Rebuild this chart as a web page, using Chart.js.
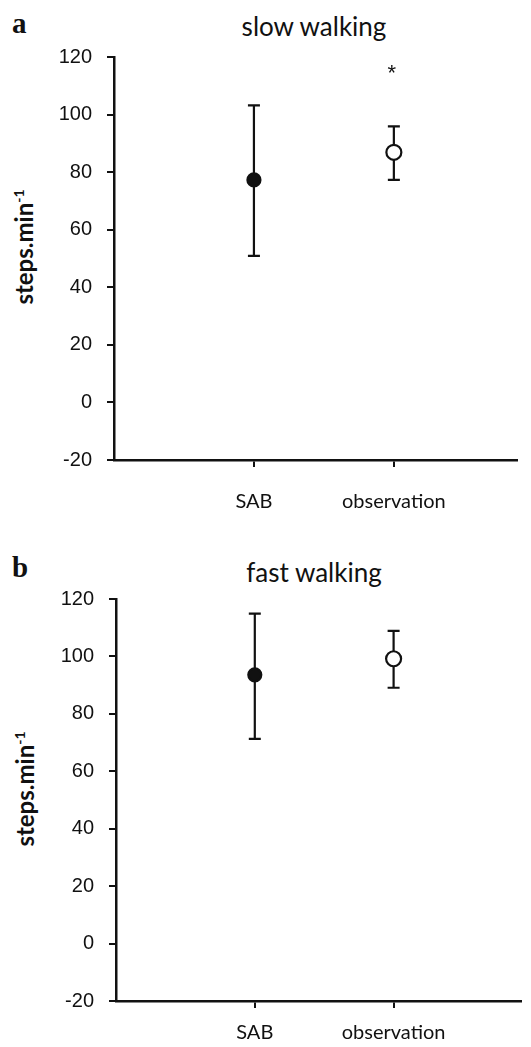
<!DOCTYPE html>
<html>
<head>
<meta charset="utf-8">
<script src="https://cdn.jsdelivr.net/npm/chart.js@4.4.1/dist/chart.umd.min.js"></script>
<style>
  html, body { margin: 0; padding: 0; background: #fff; }
  #page { position: relative; width: 531px; height: 1047px; overflow: hidden; }
  canvas { position: absolute; left: 0; }
  .letter { position: absolute; font-family: "Liberation Serif", "DejaVu Serif", serif; font-weight: bold; font-size: 29px; line-height: 1; color: #111; }
  .title { position: absolute; font-family: Lato, "Open Sans", sans-serif; font-size: 26px; line-height: 1; color: #111; transform: translateX(-50%); white-space: nowrap; }
  .ytitle { position: absolute; font-family: Lato, "Open Sans", sans-serif; font-weight: bold; font-size: 24px; line-height: 1; color: #111; white-space: nowrap; transform: translate(-50%, -50%) rotate(-90deg); }
  .ytitle sup { font-size: 14px; vertical-align: 9px; line-height: 0; }
</style>
</head>
<body>
<div id="page">
  <div class="letter" style="left:12px; top:9px;">a</div>
  <div class="title" style="left:314px; top:13px;">slow walking</div>
  <div class="ytitle" style="left:24px; top:247px;">steps.min<sup>-1</sup></div>
  <canvas id="chartA" width="531" height="520" style="top:0;"></canvas>

  <div class="letter" style="left:12px; top:553px;">b</div>
  <div class="title" style="left:314px; top:559px;">fast walking</div>
  <div class="ytitle" style="left:25px; top:789px;">steps.min<sup>-1</sup></div>
  <canvas id="chartB" width="531" height="527" style="top:520px;"></canvas>
</div>
<script>
// categories on the x axis
const categories = ['SAB', 'observation'];
const xPositions = [1, 2];
const yTicks = [-20, 0, 20, 40, 60, 80, 100, 120];

// a: slow walking (mean, lower / upper error bar ends)
const slowMeans = [77.3, 86.9];
const slowLows = [50.9, 77.3];
const slowHighs = [103.2, 95.9];
const slowStars = [null, 115.5];

// b: fast walking
const fastMeans = [93.6, 99.2];
const fastLows = [71.3, 89.1];
const fastHighs = [114.9, 108.9];
const fastStars = [null, null];

// error bars + significance stars, drawn through the chart scales
const errorBarsPlugin = {
  id: 'errorBars',
  beforeDatasetsDraw(chart, args, opts) {
    const { ctx, scales: { x, y } } = chart;
    ctx.save();
    ctx.strokeStyle = '#111';
    ctx.lineWidth = 2.2;
    xPositions.forEach((xv, i) => {
      const px = x.getPixelForValue(xv);
      const lo = y.getPixelForValue(opts.lows[i]);
      const hi = y.getPixelForValue(opts.highs[i]);
      ctx.beginPath();
      ctx.moveTo(px, lo);
      ctx.lineTo(px, hi);
      ctx.moveTo(px - 6, lo);
      ctx.lineTo(px + 6, lo);
      ctx.moveTo(px - 6, hi);
      ctx.lineTo(px + 6, hi);
      ctx.stroke();
    });
    ctx.fillStyle = '#111';
    ctx.font = '22px "Liberation Sans", Arial, sans-serif';
    ctx.textAlign = 'center';
    ctx.textBaseline = 'middle';
    opts.stars.forEach((s, i) => {
      if (s == null) return;
      ctx.fillText('*', x.getPixelForValue(xPositions[i]) - 2, y.getPixelForValue(s) + 4);
    });
    ctx.restore();
  }
};

function makeChart(id, means, lows, highs, stars, layout) {
  const tickFont = { family: '"Liberation Sans", Arial, sans-serif', size: 20 };
  const catFont = { family: 'Lato, "Open Sans", sans-serif', size: 20 };
  return new Chart(document.getElementById(id), {
    type: 'scatter',
    data: {
      datasets: [{
        data: xPositions.map((xv, i) => ({ x: xv, y: means[i] })),
        pointRadius: [6.5, 7.5],
        pointBackgroundColor: ['#111', '#fff'],
        pointBorderColor: '#111',
        pointBorderWidth: 2.2
      }]
    },
    options: {
      responsive: false,
      animation: false,
      layout: { padding: { top: layout.top, right: layout.right, left: 0, bottom: 0 } },
      plugins: {
        legend: { display: false },
        tooltip: { enabled: false },
        errorBars: { lows: lows, highs: highs, stars: stars }
      },
      scales: {
        x: {
          type: 'linear',
          min: 0,
          max: layout.xMax,
          afterBuildTicks: (s) => { s.ticks = xPositions.map(v => ({ value: v })); },
          afterFit: (s) => { s.height = layout.xHeight; },
          ticks: {
            callback: (v, i) => categories[i],
            font: catFont,
            color: '#111',
            padding: layout.labelPad,
            maxRotation: 0
          },
          grid: { drawOnChartArea: false, drawTicks: true, tickLength: 7, color: '#111', lineWidth: 2 },
          border: { display: true, color: '#111', width: 2.5 }
        },
        y: {
          min: -20,
          max: 120,
          afterBuildTicks: (s) => { s.ticks = yTicks.map(v => ({ value: v })); },
          afterFit: (s) => { s.width = layout.left; },
          ticks: { font: tickFont, color: '#111', padding: 15 },
          grid: { drawOnChartArea: false, drawTicks: true, tickLength: 7, color: '#111', lineWidth: 2 },
          border: { display: true, color: '#111', width: 2.5 }
        }
      }
    },
    plugins: [errorBarsPlugin]
  });
}

makeChart('chartA', slowMeans, slowLows, slowHighs, slowStars,
  { top: 57, right: 14, left: 114, xHeight: 60, xMax: 2.88, labelPad: 23 });
makeChart('chartB', fastMeans, fastLows, fastHighs, fastStars,
  { top: 79, right: 6, left: 116, xHeight: 46, xMax: 2.92, labelPad: 13 });
</script>
</body>
</html>
